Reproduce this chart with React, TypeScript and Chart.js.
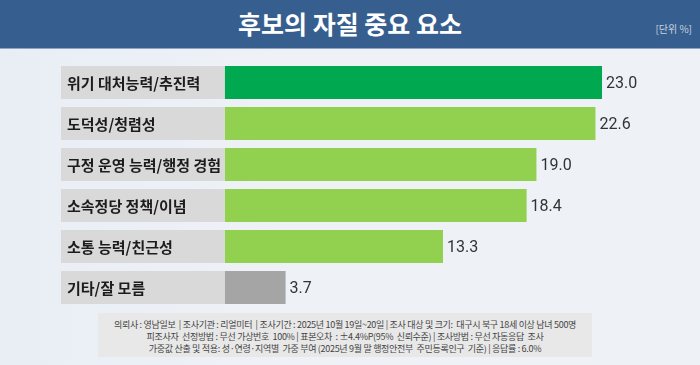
import React, { useEffect, useRef } from "react";
import { Chart, registerables } from "chart.js";
Chart.register(...registerables);

const title = "후보의 자질 중요 요소";
const unitLabel = "[단위 %]";
const categories = [
  "위기 대처능력/추진력",
  "도덕성/청렴성",
  "구정 운영 능력/행정 경험",
  "소속정당 정책/이념",
  "소통 능력/친근성",
  "기타/잘 모름",
];
const values = [23.0, 22.6, 19.0, 18.4, 13.3, 3.7];
const barColors = ["#00a94f", "#92d050", "#92d050", "#92d050", "#92d050", "#a5a5a5"];
const labelBoxRange = [-10, 0];
const footerLines = [
  "의뢰사 : 영남일보  | 조사기관 : 리얼미터  | 조사기간 : 2025년 10월 19일~20일 | 조사 대상 및 크기:  대구시 북구 18세 이상 남녀 500명",
  "피조사자  선정방법 : 무선 가상번호  100% | 표본오차  : ±4.4%P(95%  신뢰수준) | 조사방법 : 무선 자동응답  조사",
  "가중값 산출 및 적용: 성·연령·지역별  가중 부여 (2025년 9월 말 행정안전부  주민등록인구  기준) | 응답률 : 6.0%",
];

const KR = "'Noto Sans CJK KR', 'Noto Sans', sans-serif";

const labelPlugin = {
  id: "labelPlugin",
  afterDatasetsDraw(chart: any) {
    const ctx = chart.ctx;
    const x = chart.scales.x;
    const y = chart.scales.y;
    ctx.save();
    ctx.textBaseline = "middle";
    categories.forEach((c, i) => {
      const cy = y.getPixelForValue(i);
      ctx.font = `bold 15px ${KR}`;
      ctx.fillStyle = "#1c1c1c";
      ctx.textAlign = "left";
      ctx.fillText(c, x.getPixelForValue(labelBoxRange[0]) + 6, cy + 1);
      ctx.font = `16px Roboto, ${KR}`;
      ctx.fillStyle = "#333333";
      ctx.fillText(values[i].toFixed(1), x.getPixelForValue(values[i]) + 4, cy + 1);
    });
    ctx.restore();
  },
};

export default function App() {
  const ref = useRef<HTMLCanvasElement>(null);
  useEffect(() => {
    if (!ref.current) return;
    const chart = new Chart(ref.current, {
      type: "bar",
      data: {
        labels: categories,
        datasets: [
          {
            data: values,
            backgroundColor: barColors,
            categoryPercentage: 1,
            barPercentage: 0.805,
          },
          {
            data: categories.map(() => labelBoxRange) as any,
            backgroundColor: "#d9d9d9",
            categoryPercentage: 1,
            barPercentage: 0.805,
          },
        ],
      },
      options: {
        indexAxis: "y",
        animation: false,
        responsive: false,
        maintainAspectRatio: false,
        layout: { padding: { left: 61, right: 16, top: 7, bottom: 7 } },
        datasets: { bar: { grouped: false } } as any,
        plugins: { legend: { display: false }, tooltip: { enabled: false } },
        scales: {
          x: { display: false, min: -10, max: 28 },
          y: { display: false },
        },
      },
      plugins: [labelPlugin],
    });
    return () => chart.destroy();
  }, []);

  return (
    <div
      style={{
        position: "absolute",
        left: 0,
        top: 0,
        width: 700,
        height: 365,
        overflow: "hidden",
        background: "linear-gradient(90deg, #e9eef5 0%, #eef2f7 40%, #eef2f7 100%)",
        fontFamily: KR,
      }}
    >
      <div
        style={{
          position: "absolute",
          left: 0,
          top: 0,
          width: 700,
          height: 48,
          background: "#365f8f",
          borderBottom: "1px solid #8ea5c2",
        }}
      >
        <div
          style={{
            position: "absolute",
            left: 0,
            width: 700,
            top: 6,
            textAlign: "center",
            color: "#ffffff",
            fontWeight: "bold",
            fontSize: 25,
            lineHeight: "34px",
          }}
        >
          {title}
        </div>
        <div
          style={{
            position: "absolute",
            right: 8,
            top: 22,
            color: "#c9d2df",
            fontSize: 10,
            lineHeight: "14px",
          }}
        >
          {unitLabel}
        </div>
      </div>
      <canvas
        ref={ref}
        width={700}
        height={260}
        style={{ position: "absolute", left: 0, top: 55, width: 700, height: 260 }}
      />
      <div
        style={{
          position: "absolute",
          left: 98,
          top: 313,
          width: 494,
          height: 44,
          background: "#e8e8e8",
          color: "#444",
          fontSize: 9,
          lineHeight: "12px",
          textAlign: "center",
          paddingTop: 6,
          boxSizing: "border-box",
          letterSpacing: -0.3,
        }}
      >
        {footerLines.map((l, i) => (
          <div key={i} style={{ whiteSpace: "pre" }}>{l}</div>
        ))}
      </div>
    </div>
  );
}
